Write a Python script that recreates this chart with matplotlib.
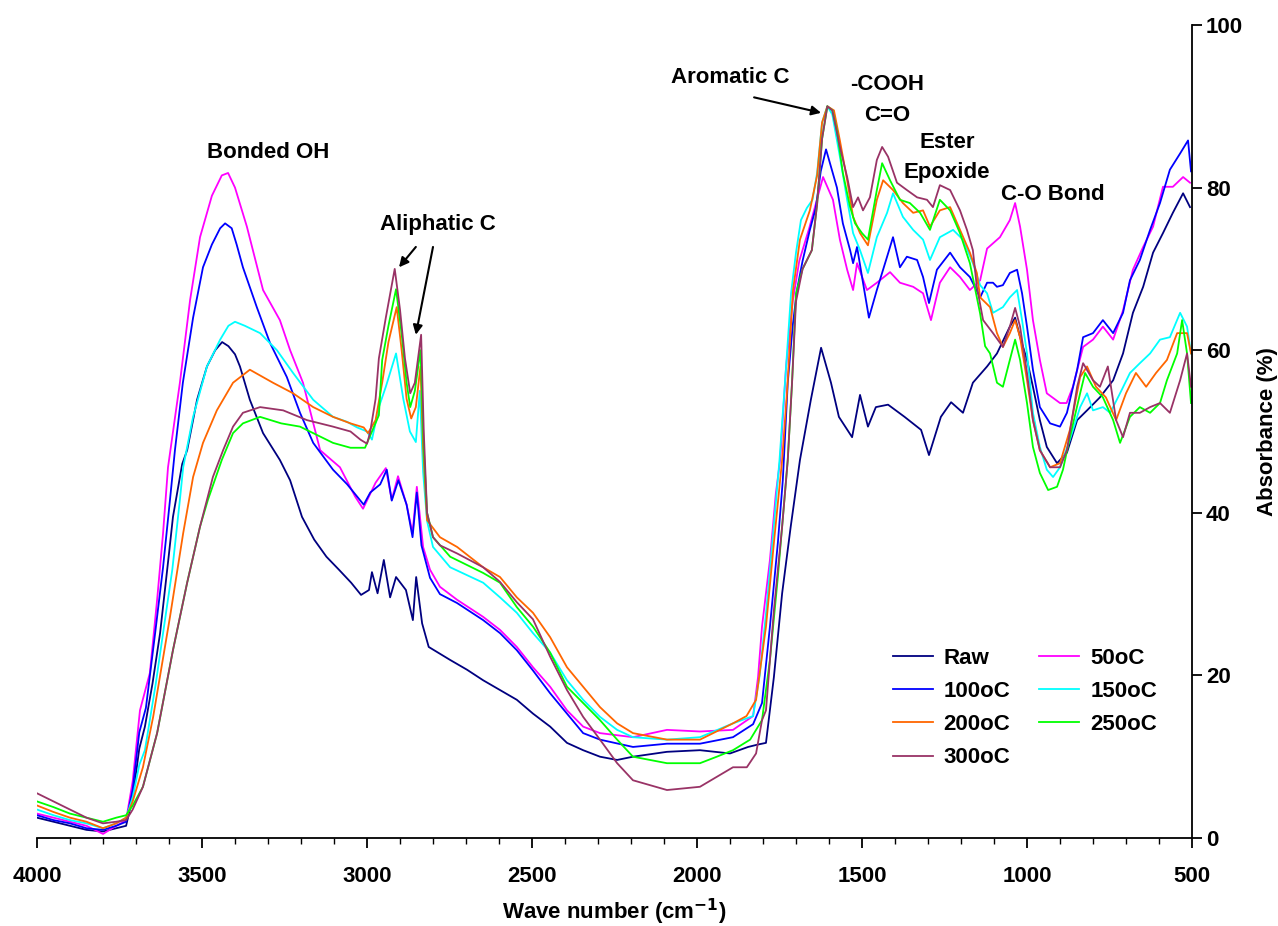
import matplotlib
matplotlib.use("Agg")
import matplotlib.pyplot as plt
from matplotlib.ticker import MultipleLocator

plt.rcParams['font.family'] = ['Liberation Sans', 'DejaVu Sans']
plt.rcParams['font.weight'] = 'bold'

# ---------------- data (wave number cm-1, absorbance %) ----------------
raw_wn = [4000, 3950, 3900, 3850, 3800, 3760, 3730, 3710, 3690, 3673, 3650, 3627, 3600, 3588, 3560, 3545, 3515,
          3485, 3460, 3439, 3420, 3400, 3385, 3355, 3315, 3264, 3233, 3197, 3160, 3123, 3085, 3048, 3018, 2994,
          2985, 2968, 2949, 2930, 2912, 2882, 2861, 2851, 2833, 2813, 2748, 2697, 2648, 2597, 2546, 2497, 2445,
          2394, 2345, 2294, 2242, 2194, 2091, 1991, 1900, 1845, 1815, 1791, 1767, 1742, 1716, 1688, 1655, 1624,
          1594, 1570, 1530, 1506, 1482, 1458, 1421, 1371, 1321, 1297, 1261, 1230, 1194, 1164, 1121, 1091, 1052,
          1036, 1021, 1000, 982, 961, 940, 909, 879, 848, 818, 779, 739, 709, 679, 648, 618, 588, 558, 527, 506]
raw_ab = [2.5, 2.0, 1.5, 1.0, 0.8, 1.2, 1.5, 5, 11, 13.7, 19, 25.2, 35, 39.5, 46, 47.7, 53.9,
          58, 60, 61, 60.5, 59.5, 58, 53.9, 49.8, 46.5, 44, 39.5, 36.7, 34.6, 33, 31.4, 29.9, 30.5,
          32.7, 30.1, 34.2, 29.6, 32.1, 30.5, 26.8, 32.1, 26.4, 23.5, 21.9, 20.7, 19.4, 18.2, 17, 15.3, 13.7,
          11.7, 10.8, 10, 9.6, 10, 10.6, 10.8, 10.4, 11.2, 11.5, 11.7, 19.8, 30.1, 38.3, 46.5, 53.9, 60.3,
          56, 51.8, 49.3, 54.5, 50.6, 53, 53.3, 51.8, 50.2, 47.1, 51.8, 53.6, 52.3, 56, 58, 59.6, 62.9,
          64, 61.6, 58.8, 55.5, 51.4, 48.1, 46.1, 47.4, 51.4, 52.6, 54.2, 56.3, 59.6, 64.6, 67.8, 72, 74.4, 76.9, 79.3, 77.6]

c50_wn = [4000, 3950, 3900, 3850, 3800, 3760, 3730, 3710, 3688, 3658, 3636, 3618, 3603, 3567, 3536, 3506, 3470,
          3440, 3421, 3400, 3364, 3315, 3264, 3233, 3194, 3142, 3082, 3036, 3012, 2974, 2943, 2925, 2906, 2880,
          2862, 2849, 2830, 2809, 2779, 2727, 2648, 2597, 2546, 2497, 2445, 2394, 2345, 2294, 2194, 2091, 1991,
          1891, 1830, 1815, 1803, 1779, 1761, 1748, 1730, 1710, 1690, 1660, 1640, 1618, 1588, 1567, 1545, 1527,
          1515, 1485, 1455, 1415, 1385, 1345, 1315, 1291, 1264, 1233, 1203, 1173, 1142, 1121, 1082, 1052, 1036,
          1021, 1000, 982, 961, 940, 900, 880, 861, 830, 800, 770, 739, 709, 679, 648, 618, 588, 558, 527, 506]
c50_ab = [3, 2.5, 2, 1.5, 0.5, 1.5, 2.2, 7, 15.7, 20.3, 29.3, 37.5, 45.6, 56, 66.2, 73.9, 79,
          81.5, 81.8, 80, 75.2, 67.4, 63.7, 60, 56, 47.7, 45.6, 42, 40.5, 43.7, 45.5, 41.6, 44.5, 41,
          37.5, 43.2, 35.8, 33, 30.9, 29.3, 27.2, 25.6, 23.5, 21, 18.6, 15.7, 13.7, 12.9, 12.4, 13.3, 13.1,
          13.3, 15, 19.8, 26, 34.2, 42.4, 46.5, 58, 66, 71, 75, 78, 81.3, 78.5, 73.6, 69.9, 67.4,
          70.7, 67.4, 68.3, 69.6, 68.3, 67.8, 67, 63.7, 68.3, 70.2, 69, 67.4, 68.6, 72.5, 73.9, 76, 78.1,
          75.2, 69.9, 63.7, 58.8, 54.7, 53.5, 53.5, 55.5, 60.4, 61.3, 62.9, 61.3, 64.9, 69.9, 72.7, 75.2, 80.1, 80.1, 81.3, 80.6]

c100_wn = [4000, 3950, 3900, 3850, 3800, 3760, 3730, 3710, 3690, 3670, 3642, 3618, 3597, 3582, 3558, 3527, 3497,
           3470, 3445, 3430, 3410, 3395, 3376, 3334, 3294, 3243, 3203, 3163, 3103, 3060, 3030, 3010, 2990, 2960,
           2940, 2925, 2905, 2880, 2862, 2849, 2835, 2809, 2779, 2727, 2648, 2597, 2546, 2497, 2445, 2394, 2345,
           2294, 2194, 2091, 1991, 1891, 1830, 1803, 1779, 1755, 1740, 1725, 1710, 1697, 1680, 1658, 1640, 1625,
           1609, 1576, 1558, 1536, 1527, 1515, 1497, 1479, 1455, 1424, 1406, 1385, 1364, 1333, 1315, 1297, 1273,
           1233, 1203, 1173, 1142, 1121, 1103, 1091, 1073, 1052, 1030, 1015, 1000, 982, 961, 930, 900, 879, 848,
           830, 800, 770, 739, 709, 688, 658, 627, 597, 567, 536, 512, 503]
c100_ab = [2.8, 2.2, 1.8, 1.2, 1.0, 1.5, 2, 6, 13, 16, 25.2, 33.3, 41.6, 47.7, 56, 64, 70.2,
           73, 75, 75.6, 75, 73, 70.2, 65.3, 60.9, 56.7, 52.3, 48.6, 45.3, 43.5, 42, 41, 42.5, 43.5,
           45.3, 41.5, 44, 41, 37, 42.5, 36, 32, 30, 28.9, 26.8, 25.2, 23.1, 20.6, 17.8, 15.3, 12.9,
           12.1, 11.2, 11.6, 11.6, 12.4, 14, 16.6, 26, 36.3, 44, 56, 63, 67.4, 71, 74.8, 77.5, 82,
           84.7, 80, 75.6, 72.3, 70.7, 72.7, 68.3, 64, 67.4, 71.5, 73.9, 70.2, 71.5, 71.1, 69, 65.8, 69.9,
           72, 70.2, 69, 66.5, 68.3, 68.3, 67.8, 68, 69.5, 69.9, 67, 62.9, 57.6, 53, 51, 50.6, 52.3, 57.6,
           61.6, 62.1, 63.7, 62.1, 64.6, 68.6, 71.1, 74.8, 78.1, 82.2, 84.2, 85.8, 82]

c150_wn = [4000, 3950, 3900, 3850, 3800, 3760, 3730, 3710, 3690, 3673, 3640, 3618, 3590, 3567, 3557, 3527, 3485,
           3445, 3420, 3400, 3370, 3324, 3273, 3224, 3163, 3103, 3061, 3030, 3000, 2985, 2964, 2943, 2912, 2890,
           2870, 2852, 2840, 2830, 2818, 2800, 2748, 2648, 2597, 2546, 2497, 2445, 2394, 2345, 2294, 2242, 2194,
           2091, 1991, 1891, 1830, 1810, 1790, 1770, 1750, 1730, 1715, 1700, 1685, 1667, 1650, 1636, 1621, 1605,
           1590, 1567, 1545, 1527, 1506, 1482, 1455, 1424, 1406, 1376, 1345, 1315, 1294, 1264, 1224, 1194, 1164,
           1142, 1121, 1103, 1073, 1052, 1030, 1015, 1000, 982, 961, 940, 921, 900, 870, 839, 818, 800, 770, 748,
           718, 688, 658, 627, 597, 567, 536, 515, 503]
c150_ab = [3.5, 2.8, 2.2, 1.8, 1.2, 1.8, 2.5, 5, 9, 10.8, 19, 25.2, 33, 41.6, 45.6, 51.8, 58,
           61.3, 63, 63.5, 63, 62.1, 60, 57.2, 53.9, 51.8, 51.2, 50.5, 50, 49, 53, 55.5, 59.6, 54,
           50, 48.7, 55, 45, 39, 35.8, 33.3, 31.4, 29.6, 27.7, 25.2, 22.8, 19.4, 17, 14.9, 13.3, 12.4,
           12.1, 12.4, 14.1, 15, 20, 28, 37, 46.5, 58, 67, 72, 76, 77.5, 78.5, 81.8, 88, 90,
           89, 83.8, 78.5, 74.4, 72.3, 69.5, 73.9, 76.9, 79.3, 76.4, 74.8, 73.6, 71.1, 73.9, 74.8, 73.6, 70.7,
           68, 67, 64.6, 65.3, 66.5, 67.4, 63.7, 59.6, 52.3, 48.1, 45.3, 44.4, 45.6, 49, 53, 54.7, 52.6, 53, 52.3,
           54.7, 57.2, 58.4, 59.6, 61.3, 61.6, 64.6, 62.9, 59.6]

c200_wn = [4000, 3950, 3900, 3850, 3800, 3760, 3730, 3710, 3679, 3648, 3597, 3557, 3527, 3497, 3455, 3406, 3355,
           3285, 3224, 3163, 3103, 3050, 3010, 2997, 2974, 2954, 2935, 2910, 2895, 2880, 2866, 2852, 2838, 2830,
           2818, 2779, 2727, 2648, 2597, 2546, 2497, 2445, 2394, 2345, 2294, 2242, 2194, 2091, 1991, 1891, 1850,
           1821, 1791, 1767, 1742, 1727, 1709, 1688, 1658, 1636, 1621, 1605, 1585, 1567, 1545, 1527, 1506, 1482,
           1455, 1436, 1406, 1376, 1345, 1315, 1294, 1264, 1233, 1203, 1173, 1152, 1142, 1112, 1091, 1073, 1052,
           1036, 1021, 1000, 982, 961, 930, 900, 870, 839, 818, 791, 761, 730, 700, 670, 639, 609, 576, 545, 515, 503]
c200_ab = [4, 3.2, 2.5, 2, 1.2, 1.8, 2.5, 4.5, 8.7, 14.9, 27.2, 37.5, 44.4, 48.6, 52.6, 56, 57.6,
           56, 54.7, 53, 51.8, 51, 50.5, 49.8, 51.4, 56, 61, 65.3, 60, 54, 51.6, 53, 58, 48,
           39.1, 37, 35.8, 33.3, 32.1, 29.6, 27.7, 24.7, 21, 18.6, 16.1, 14.1, 12.9, 12.1, 12.1, 14.1, 15,
           17, 26, 36.3, 46.5, 55, 67.4, 73.6, 77.2, 81.5, 88, 90, 89.5, 85.8, 80.9, 76.4, 74.4, 72.9,
           78.5, 80.9, 79.7, 78.1, 76.9, 77.2, 75.2, 77.2, 77.6, 74.8, 72, 69.5, 66.5, 65.3, 62.1, 60.4, 62.1,
           63.7, 61.6, 56.3, 51.4, 47.7, 45.6, 46.1, 50.2, 56.7, 58, 55.5, 54.2, 51.4, 54.7, 57.2, 55.5, 57.2, 58.8, 62.1, 62.1, 59.6]

c250_wn = [4000, 3950, 3900, 3850, 3800, 3760, 3730, 3710, 3679, 3636, 3588, 3545, 3506, 3482, 3440, 3406, 3376,
           3324, 3260, 3203, 3103, 3050, 3006, 2985, 2964, 2954, 2935, 2912, 2895, 2880, 2869, 2855, 2838, 2828,
           2818, 2800, 2748, 2648, 2597, 2546, 2497, 2445, 2394, 2345, 2294, 2242, 2194, 2091, 1991, 1940, 1891,
           1839, 1815, 1803, 1779, 1755, 1725, 1712, 1700, 1680, 1652, 1636, 1621, 1605, 1590, 1576, 1558, 1536,
           1521, 1500, 1482, 1455, 1439, 1415, 1385, 1355, 1324, 1294, 1264, 1233, 1203, 1173, 1142, 1127, 1112,
           1091, 1073, 1052, 1036, 1021, 1000, 982, 961, 936, 909, 891, 870, 839, 824, 800, 770, 739, 718, 688,
           658, 627, 597, 576, 545, 530, 515, 503]
c250_ab = [4.5, 3.8, 3, 2.5, 2, 2.5, 2.8, 4, 6.3, 12.9, 23.1, 31.4, 38.3, 41.6, 46.5, 49.8, 51,
           51.8, 51, 50.6, 48.6, 48, 48, 50, 52, 58.8, 63, 67.5, 62, 56, 53, 55, 60, 48,
           40, 37, 34.6, 32.6, 31.4, 28.4, 26, 22.8, 18.6, 16.6, 14.5, 12.1, 10, 9.2, 9.2, 10, 10.8,
           12.1, 13.7, 14.5, 21.9, 32.1, 46.5, 56, 67, 70, 72.3, 78, 86, 90, 89.5, 87, 81.8, 77.6,
           75.6, 74.4, 73.6, 79.7, 83, 80.9, 78.5, 78.1, 76.9, 74.8, 78.5, 77.2, 74.4, 70.7, 64.5, 60.5, 59.6,
           56, 55.5, 58.8, 61.3, 58.8, 53.5, 48.1, 44.9, 42.8, 43.2, 45.3, 49.3, 54.7, 57.2, 55.5, 54.2, 51.4, 48.6, 51.8,
           53, 52.3, 53.5, 56.3, 59.6, 63.7, 59.6, 53.5]

c300_wn = [4000, 3950, 3900, 3850, 3800, 3760, 3730, 3710, 3679, 3636, 3588, 3545, 3506, 3467, 3436, 3406, 3376,
           3324, 3254, 3182, 3103, 3050, 3020, 3000, 2991, 2974, 2964, 2943, 2916, 2900, 2885, 2869, 2855, 2836,
           2828, 2818, 2800, 2779, 2727, 2648, 2597, 2546, 2497, 2445, 2394, 2345, 2294, 2242, 2194, 2091, 1991,
           1891, 1849, 1821, 1803, 1791, 1767, 1742, 1725, 1712, 1700, 1680, 1652, 1636, 1621, 1605, 1590, 1567,
           1545, 1527, 1512, 1497, 1476, 1455, 1439, 1421, 1394, 1364, 1333, 1303, 1285, 1264, 1233, 1203, 1182,
           1164, 1152, 1133, 1103, 1073, 1052, 1036, 1021, 1000, 982, 961, 930, 900, 879, 848, 830, 800, 779, 755,
           730, 709, 688, 658, 627, 597, 567, 536, 515, 503]
c300_ab = [5.5, 4.5, 3.5, 2.5, 1.8, 2, 2.2, 3.5, 6.3, 12.9, 23.1, 31.4, 38.3, 44.4, 47.7, 50.6, 52.3,
           53, 52.6, 51.4, 50.6, 50, 49, 48.5, 49.8, 54, 59, 64, 70, 65, 59, 54.7, 56, 61.9,
           50, 40, 37, 36, 35, 33.3, 31.5, 29, 26.9, 22.3, 18.2, 14.9, 12.1, 9.2, 7.1, 5.9, 6.3,
           8.7, 8.7, 10.4, 14.5, 15.7, 28, 38.3, 46.5, 56, 66, 70, 72.3, 78, 86, 90, 89.5, 85,
           81.3, 77.6, 78.8, 77.2, 78.8, 83.4, 85, 83.8, 80.6, 79.7, 78.8, 78.5, 77.6, 80.3, 79.7, 77.2, 74.8,
           72.3, 67.8, 63.7, 62.1, 60.4, 62.9, 65.2, 62.9, 57.2, 51.4, 47.7, 45.6, 45.6, 47.7, 55.5, 58.4, 56.3, 55.5, 58,
           51.4, 49.3, 52.3, 52.3, 53, 53.5, 52.3, 56.3, 59.6, 55.5]

labels = ['Raw', '50oC', '100oC', '150oC', '200oC', '250oC', '300oC']
colors = ['#000080', '#FF00FF', '#0000FF', '#00FFFF', '#FF6600', '#00FF00', '#993366']

# ---------------- figure ----------------
fig = plt.figure(figsize=(12.78, 9.26), dpi=100)
ax = fig.add_axes([37 / 1278, (926 - 838) / 926, 1155 / 1278, 813 / 926])

series = [(raw_wn, raw_ab), (c50_wn, c50_ab), (c100_wn, c100_ab), (c150_wn, c150_ab),
          (c200_wn, c200_ab), (c250_wn, c250_ab), (c300_wn, c300_ab)]
handles = {}
for (wn, ab), lab, col in zip(series, labels, colors):
    h, = ax.plot(wn, ab, color=col, lw=1.3, label=lab)
    handles[lab] = h

ax.set_xlim(4000, 500)
ax.set_ylim(0, 100)

for s in ['top', 'left']:
    ax.spines[s].set_visible(False)
for s in ['bottom', 'right']:
    ax.spines[s].set_linewidth(1.3)

ax.yaxis.tick_right()
ax.yaxis.set_label_position('right')
ax.xaxis.set_major_locator(MultipleLocator(500))
ax.xaxis.set_minor_locator(MultipleLocator(100))
ax.yaxis.set_major_locator(MultipleLocator(20))
ax.tick_params(axis='x', which='major', direction='out', length=7, width=1.3, pad=13, labelsize=16)
ax.tick_params(axis='x', which='minor', direction='out', length=4, width=1.0)
ax.tick_params(axis='y', which='major', direction='out', length=7, width=1.3, pad=3, labelsize=16)
for t in ax.get_xticklabels() + ax.get_yticklabels():
    t.set_fontweight('bold')

ax.set_xlabel('Wave number (cm$^{\\mathbf{-1}}$)', fontsize=16, fontweight='bold', labelpad=7)
ax.set_ylabel('Absorbance (%)', fontsize=16, fontweight='bold', labelpad=10)

# annotations
tkw = dict(fontsize=16, fontweight='bold', ha='center', va='center')
ax.text(3300, 84.3, 'Bonded OH', **tkw)
ax.text(2785, 75.4, 'Aliphatic C', **tkw)
ax.text(1900, 93.5, 'Aromatic C', **tkw)
ax.text(1424, 92.7, '-COOH', **tkw)
ax.text(1424, 88.9, 'C=O', **tkw)
ax.text(1242, 85.6, 'Ester', **tkw)
ax.text(1242, 81.8, 'Epoxide', **tkw)
ax.text(921, 79.1, 'C-O Bond', **tkw)

akw = dict(arrowstyle='-|>', color='black', lw=1.5, mutation_scale=14, shrinkA=0, shrinkB=0)
ax.annotate('', xy=(2903, 70.2), xytext=(2852, 72.7), arrowprops=akw)
ax.annotate('', xy=(2852, 61.9), xytext=(2800, 72.7), arrowprops=akw)
ax.annotate('', xy=(1624, 89.2), xytext=(1827, 91.1), arrowprops=akw)

order = ['Raw', '100oC', '200oC', '300oC', '50oC', '150oC', '250oC']
leg = ax.legend([handles[k] for k in order], order, ncol=2, frameon=False,
                loc='upper left', bbox_to_anchor=(0.733, 0.245),
                prop={'size': 16, 'weight': 'bold'}, handlelength=1.8, handletextpad=0.5,
                labelspacing=0.55, columnspacing=1.3, borderaxespad=0)

fig.savefig('out.png', dpi=100)
